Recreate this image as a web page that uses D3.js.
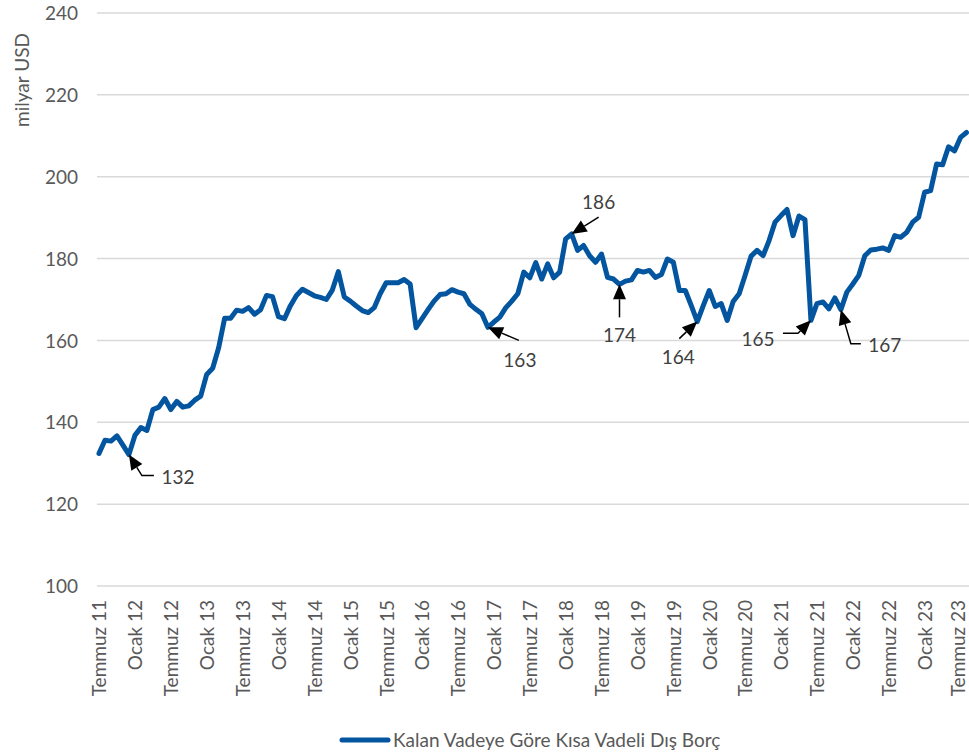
<!DOCTYPE html>
<html>
<head>
<meta charset="utf-8">
<script src="https://cdn.jsdelivr.net/npm/d3@7"></script>
<style>
  html, body { margin: 0; padding: 0; background: #ffffff; }
  svg { display: block; }
  text { font-family: Lato, "Open Sans", sans-serif; }
</style>
</head>
<body>
<div id="chart"></div>
<script>
// ---- DATA ----
const seriesName = "Kalan Vadeye Göre Kısa Vadeli Dış Borç";
const monthNames = ["Ocak","Şubat","Mart","Nisan","Mayıs","Haziran","Temmuz","Ağustos","Eylül","Ekim","Kasım","Aralık"];
const startYear = 2011;
const startMonth = 6; // Temmuz
const values = [
  132.4,135.6,135.4,136.7,134.4,132.1,136.8,138.7,138.0,143.1,143.7,145.8,
  143.1,145.1,143.7,144.0,145.4,146.4,151.7,153.2,158.2,165.4,165.4,167.4,
  167.1,168.0,166.4,167.5,171.0,170.7,165.8,165.3,168.5,171.0,172.5,171.7,
  170.9,170.5,170.0,172.3,176.8,170.6,169.6,168.4,167.3,166.8,168.0,171.4,
  174.1,174.1,174.1,174.9,173.8,163.1,165.3,167.5,169.6,171.2,171.4,172.4,
  171.8,171.4,168.8,167.6,166.5,163.2,164.5,165.7,168.0,169.6,171.4,176.7,
  175.3,179.0,175.0,178.7,175.3,176.7,184.8,186.0,182.0,183.2,180.7,179.1,
  181.1,175.4,175.0,173.7,174.5,174.8,177.1,176.7,177.1,175.4,176.1,179.9,
  179.1,172.2,172.2,168.5,164.6,168.5,172.2,168.3,169.0,164.9,169.5,171.4,
  175.9,180.6,182.0,180.7,184.4,188.9,190.5,192.0,185.6,190.4,189.5,164.9,
  169.0,169.4,167.7,170.4,167.5,171.8,173.8,175.9,180.7,182.1,182.3,182.6,
  182.0,185.6,185.2,186.4,188.9,190.1,196.2,196.6,203.1,202.9,207.3,206.3,
  209.6,210.8
];
const categories = values.map((_, i) => {
  const m = startMonth + i;
  const yr = (startYear + Math.floor(m / 12)) % 100;
  return monthNames[m % 12] + " " + String(yr).padStart(2, "0");
});
const tickLabels = categories.filter((_, i) => i % 6 === 0);
const yTicks = [100, 120, 140, 160, 180, 200, 220, 240];
const annotIndex = [5, 65, 79, 87, 100, 119, 124];
const annotLabels = ["132", "163", "186", "174", "164", "165", "167"];

// ---- LAYOUT ----
const W = 969, H = 756;
const annotLayout = [
  { path: [[13, 21], [25, 21]], text: [49, 23] },
  { path: [[31, 13]], text: [32, 33] },
  { path: [[27, -17]], text: [27, -32] },
  { path: [[0, 33]], text: [0, 51] },
  { path: [[-18, 17]], text: [-19, 36] },
  { path: [[-13, 13], [-28, 13]], text: [-53, 19] },
  { path: [[10, 34], [20, 34]], text: [44, 36] }
];

const svg = d3.select("#chart").append("svg").attr("width", W).attr("height", H);

const x = d3.scalePoint().domain(categories).range([99, 966.5]);
const y = d3.scaleLinear().domain([100, 240]).range([586, 13]);

// gridlines
svg.append("g").selectAll("line").data(yTicks).join("line")
  .attr("x1", 97).attr("x2", W)
  .attr("y1", d => y(d)).attr("y2", d => y(d))
  .attr("stroke", "#d9d9d9").attr("stroke-width", 1.5);

// y axis (labels only)
const yAxis = d3.axisLeft(y).tickValues(yTicks).tickSize(0).tickPadding(0);
const gy = svg.append("g").attr("transform", "translate(78,0)").call(yAxis);
gy.select(".domain").remove();
gy.selectAll("text").attr("fill", "#595959").style("font-size", "19px")
  .style("font-family", "Lato, sans-serif").attr("dy", "0.35em").attr("x", 0);

// y title
svg.append("text")
  .attr("transform", "translate(29,80) rotate(-90)")
  .attr("text-anchor", "middle")
  .attr("fill", "#595959").style("font-size", "19px")
  .text("milyar USD");

// x axis labels
const xAxis = d3.axisBottom(x).tickValues(tickLabels).tickSize(0).tickPadding(0);
const gx = svg.append("g").attr("transform", "translate(0,600)").call(xAxis);
gx.select(".domain").remove();
gx.selectAll("text")
  .attr("fill", "#595959").style("font-size", "19px").style("font-family", "Lato, sans-serif")
  .attr("transform", "rotate(-90)")
  .attr("text-anchor", "end")
  .attr("x", 0).attr("y", 0).attr("dy", "0.36em");
// keep the last label inside the page edge
gx.selectAll(".tick").filter((d, i, n) => i === n.length - 1).select("text").attr("y", -3);

// line
const line = d3.line().x((d, i) => x(categories[i])).y(d => y(d));
svg.append("path").datum(values)
  .attr("d", line)
  .attr("fill", "none")
  .attr("stroke", "#02559e")
  .attr("stroke-width", 5)
  .attr("stroke-linejoin", "round")
  .attr("stroke-linecap", "round");

// annotations
annotIndex.forEach((idx, k) => {
  const px = x(categories[idx]), py = y(values[idx]);
  const lay = annotLayout[k];
  const pts = [[px, py]].concat(lay.path.map(p => [px + p[0], py + p[1]]));
  const dx = pts[1][0] - pts[0][0], dy = pts[1][1] - pts[0][1];
  const len = Math.hypot(dx, dy);
  const ux = dx / len, uy = dy / len;
  const headL = 15, headW = 6.5;
  const base = [px + ux * headL, py + uy * headL];
  const shaft = [base].concat(pts.slice(1));
  svg.append("path")
    .attr("d", d3.line()(shaft))
    .attr("fill", "none").attr("stroke", "#000").attr("stroke-width", 1.5);
  const tri = [
    [px, py],
    [base[0] - uy * headW, base[1] + ux * headW],
    [base[0] + uy * headW, base[1] - ux * headW]
  ];
  svg.append("path").attr("d", d3.line()(tri) + "Z").attr("fill", "#000");
  svg.append("text")
    .attr("x", px + lay.text[0]).attr("y", py + lay.text[1])
    .attr("text-anchor", "middle").attr("dy", "0.35em")
    .attr("fill", "#404040").style("font-size", "19px")
    .text(annotLabels[k]);
});

// legend
const lg = svg.append("g");
lg.append("line").attr("x1", 342).attr("x2", 388).attr("y1", 740).attr("y2", 740)
  .attr("stroke", "#02559e").attr("stroke-width", 5).attr("stroke-linecap", "round");
lg.append("text").attr("x", 393).attr("y", 740).attr("dy", "0.35em")
  .attr("fill", "#595959").style("font-size", "19px")
  .text(seriesName);
</script>
</body>
</html>
